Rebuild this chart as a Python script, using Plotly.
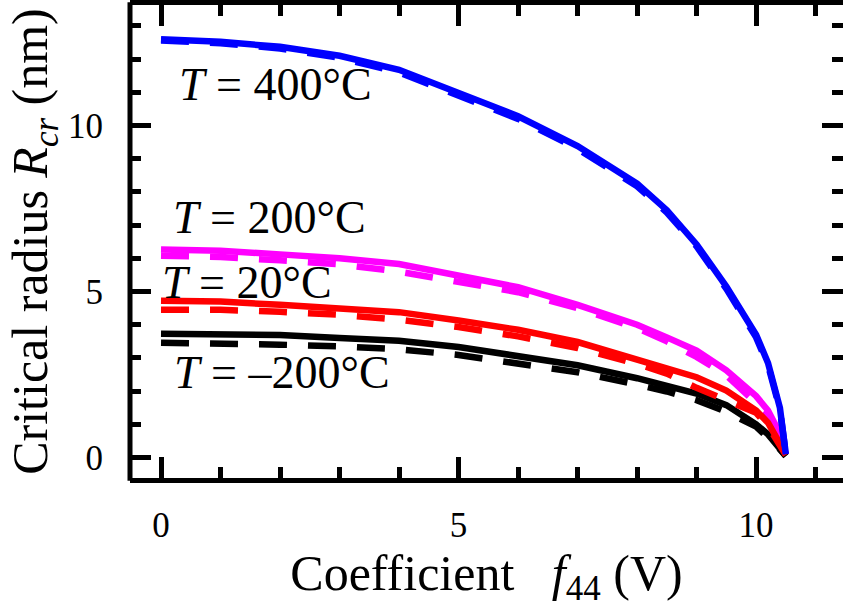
import plotly.graph_objects as go

# ---- data ----
f44 = [0, 1, 2, 3, 4, 5, 6, 7, 8, 8.5, 9, 9.5, 10, 10.2, 10.4, 10.5]

r400_solid = [12.60, 12.52, 12.37, 12.10, 11.68, 11.00, 10.28, 9.38, 8.25, 7.45, 6.42, 5.15, 3.70, 2.85, 1.50, 0.10]
r400_dash  = [12.56, 12.48, 12.32, 12.04, 11.60, 10.92, 10.20, 9.30, 8.17, 7.38, 6.36, 5.08, 3.62, 2.78, 1.45, 0.10]
r200_solid = [6.27, 6.23, 6.12, 6.00, 5.83, 5.50, 5.13, 4.60, 4.00, 3.62, 3.22, 2.63, 1.85, 1.42, 0.72, 0.10]
r200_dash  = [6.08, 6.04, 5.94, 5.82, 5.60, 5.30, 4.98, 4.50, 3.90, 3.50, 3.03, 2.48, 1.68, 1.30, 0.65, 0.10]
r20_solid  = [4.72, 4.70, 4.60, 4.50, 4.38, 4.13, 3.85, 3.48, 2.97, 2.68, 2.42, 2.02, 1.42, 1.05, 0.45, 0.10]
r20_dash   = [4.45, 4.45, 4.39, 4.30, 4.15, 3.93, 3.65, 3.30, 2.82, 2.53, 2.10, 1.75, 1.35, 0.95, 0.40, 0.08]
rm200_solid = [3.73, 3.72, 3.69, 3.60, 3.52, 3.33, 3.07, 2.78, 2.39, 2.17, 1.93, 1.58, 1.00, 0.70, 0.30, 0.05]
rm200_dash  = [3.46, 3.45, 3.40, 3.35, 3.26, 3.09, 2.85, 2.57, 2.20, 1.99, 1.73, 1.38, 0.93, 0.62, 0.25, 0.04]

labels = ["<i>T</i> = 400°C", "<i>T</i> = 200°C", "<i>T</i> = 20°C", "<i>T</i> = –200°C"]
label_x = [1.92, 1.82, 1.45, 2.03]
label_y = [11.23, 7.23, 5.26, 2.55]

x_ticks = [0, 5, 10]
y_ticks = [0, 5, 10]

FONT = "Liberation Serif, Times New Roman, serif"
LW = 6.5
DASH = "28px,21px"

series = [
    (rm200_solid, rm200_dash, "black"),
    (r200_solid, r200_dash, "#ff00ff"),
    (r20_solid, r20_dash, "#ff0000"),
    (r400_solid, r400_dash, "#0000ff"),
]

fig = go.Figure()
for solid, dash, col in series:
    fig.add_trace(go.Scatter(x=f44, y=solid, mode="lines",
                             line=dict(color=col, width=LW), showlegend=False))
    fig.add_trace(go.Scatter(x=f44, y=dash, mode="lines",
                             line=dict(color=col, width=LW, dash=DASH), showlegend=False))

for txt, lx, ly in zip(labels, label_x, label_y):
    fig.add_annotation(x=lx, y=ly, xref="x", yref="y", text=txt, showarrow=False,
                       font=dict(family=FONT, size=46, color="black"))

# left spine (right spine is outside the visible picture)
fig.add_shape(type="line", xref="paper", yref="paper", x0=0, x1=0, y0=-0.006, y1=1.006,
              line=dict(color="black", width=5))

axis_common = dict(
    ticks="inside", ticklen=21, tickwidth=5, tickcolor="black",
    showgrid=False, zeroline=False,
    tickfont=dict(family=FONT, size=35, color="black"),
    minor=dict(ticks="inside", dtick=1, ticklen=11, tickwidth=5, tickcolor="black", showgrid=False),
)

fig.update_layout(
    width=843, height=608,
    margin=dict(l=130, r=0, t=3, b=130),
    paper_bgcolor="white", plot_bgcolor="white",
    font=dict(family=FONT, color="black"),
    xaxis=dict(range=[-0.521, 11.46], tickvals=x_ticks, showline=True, linewidth=5,
               linecolor="black", mirror="ticks", ticklabelstandoff=12,
               title=dict(text="Coefficient\u00a0\u00a0 <i>f</i><sub>44</sub> (V)",
                          font=dict(family=FONT, size=50), standoff=16),
               **axis_common),
    yaxis=dict(range=[-0.615, 13.63], tickvals=y_ticks, showline=False,
               mirror="ticks", ticklabelstandoff=26,
               title=dict(text="Critical radius <i>R</i><sub><i>cr</i></sub> (nm)",
                          font=dict(family=FONT, size=50), standoff=4),
               **axis_common),
)

fig.write_html("out.html")
